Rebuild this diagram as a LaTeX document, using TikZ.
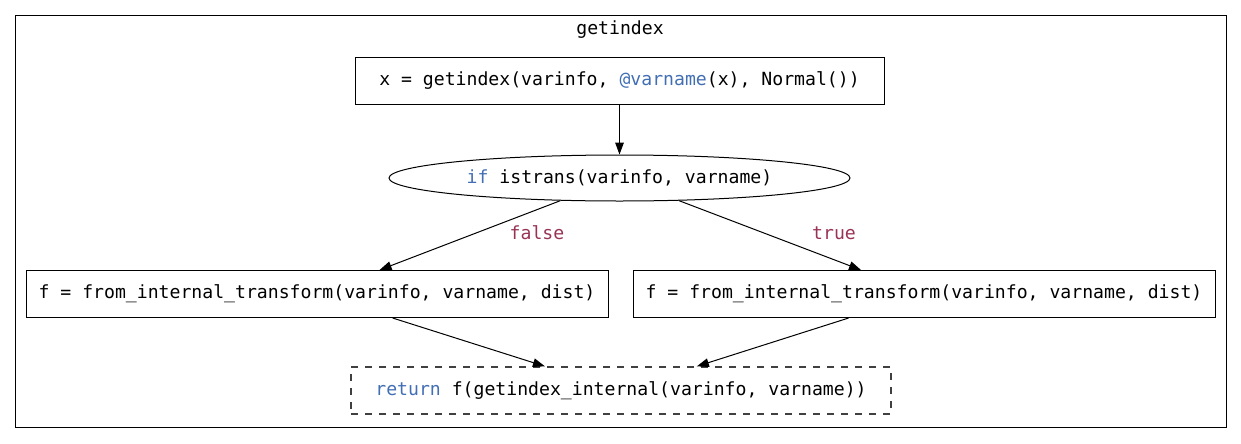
\documentclass[tikz,border=0pt]{standalone}
\usepackage{fontspec}
\setmonofont{DejaVu Sans Mono}
\usetikzlibrary{arrows.meta,shapes.geometric}
\definecolor{kw}{RGB}{66,110,180}
\definecolor{lbl}{RGB}{153,51,85}
\begin{document}
\begin{tikzpicture}[x=0.75pt,y=-0.75pt,
  font=\ttfamily\fontsize{13.6}{16}\selectfont, line width=0.75pt,
  box/.style={draw, rectangle, inner sep=0pt, minimum height=35.25pt},
  oval/.style={draw, ellipse, inner sep=0pt, minimum width=345.75pt, minimum height=34.5pt},
  arr/.style={-{Triangle[length=9pt,width=6.5pt]}},
  elabel/.style={text=lbl, inner sep=0pt}]
\useasboundingbox (0,0) rectangle (1241,443);
\node[draw, rectangle, inner sep=0pt, minimum width=908.25pt, minimum height=309pt] (cluster) at (620.5,221) {};
\node[inner sep=0pt] (title) at (620,30) {getindex};
\node[box, minimum width=396.75pt] (top) at (619.5,80.5) {x = getindex(varinfo, \textcolor{kw}{@varname}(x), Normal())};
\node[oval] (cond) at (619.5,178) {\textcolor{kw}{if} istrans(varinfo, varname)};
\node[box, minimum width=436.5pt] (left) at (317,294) {f = from\_internal\_transform(varinfo, varname, dist)};
\node[box, minimum width=436.5pt] (right) at (924,294) {f = from\_internal\_transform(varinfo, varname, dist)};
\node[box, draw=black!75, line width=1pt, dash pattern=on 5.25pt off 5.25pt, minimum width=405pt] (ret) at (621,390.5) {\textcolor{kw}{return} f(getindex\_internal(varinfo, varname))};
\draw[arr] (top) -- (cond);
\draw[arr] (cond) -- (left);
\draw[arr] (cond) -- (right);
\draw[arr] (left) -- (ret);
\draw[arr] (right) -- (ret);
\node[elabel] (lf) at (537,233) {false};
\node[elabel] (lt) at (834,233) {true};
\end{tikzpicture}
\end{document}
